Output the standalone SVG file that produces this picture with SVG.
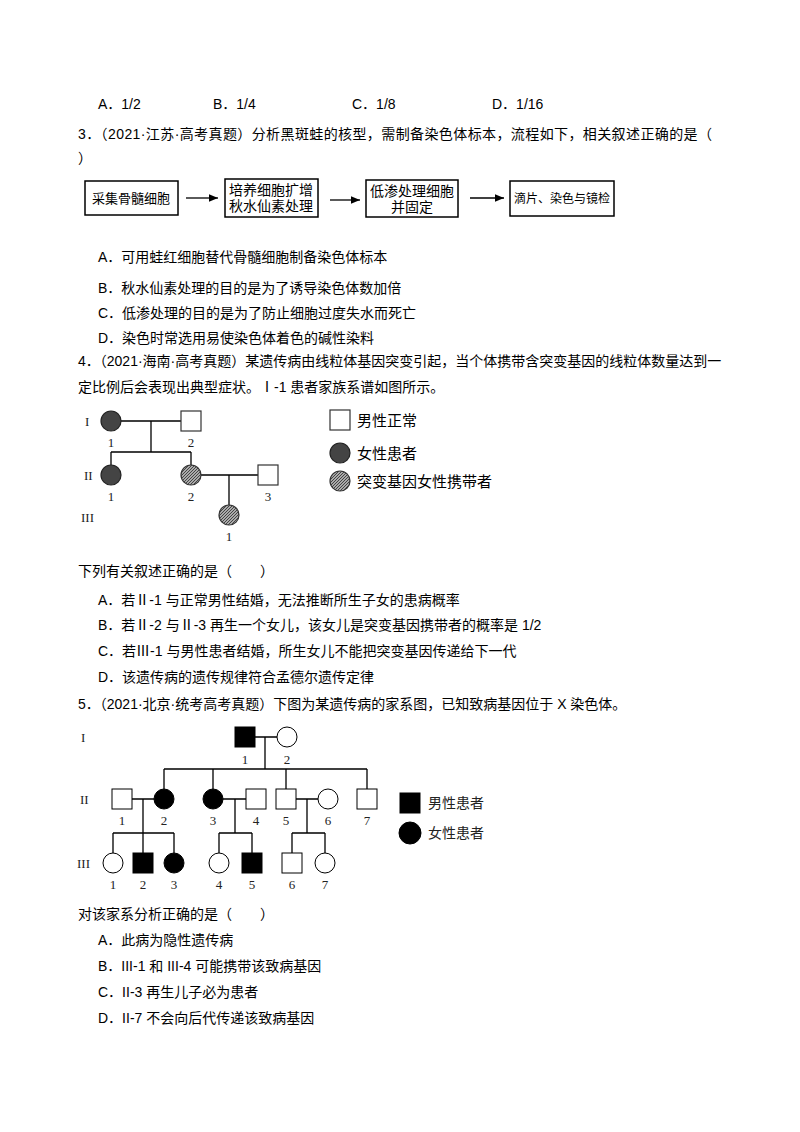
<svg xmlns="http://www.w3.org/2000/svg" width="800" height="1132" viewBox="0 0 800 1132">
<style>
text{font-family:"Liberation Sans","Noto Sans CJK SC",sans-serif;font-size:14px;fill:#000}
.s{font-family:"Liberation Serif","Noto Sans CJK SC",serif;font-size:13px;fill:#222}
.l{font-size:15px}
.b{fill:#fff;stroke:#000;stroke-width:1.5}
.ln{stroke:#000;stroke-width:1.3;fill:none}
.e{fill:#fff;stroke:#333;stroke-width:1.2}
.d{fill:#444;stroke:#222;stroke-width:1.2}
.h{fill:url(#hat);stroke:#333;stroke-width:1.2}
.k{fill:#000;stroke:#000}
.w{fill:#fff;stroke:#000;stroke-width:1}
</style>
<defs>
<pattern id="hat" width="3" height="3" patternUnits="userSpaceOnUse"><rect width="3" height="3" fill="#aaa"/><path d="M0 3L3 0" stroke="#444" stroke-width="1"/></pattern>
<marker id="ar" markerWidth="8" markerHeight="8" refX="7" refY="4" orient="auto"><path d="M0 1L7 4L0 7z" fill="#000"/></marker>
</defs>
<rect width="800" height="1132" fill="#fff"/>
<text x="98" y="109">A．1/2</text><text x="213" y="109">B．1/4</text><text x="352" y="109">C．1/8</text><text x="492" y="109">D．1/16</text>
<text x="78" y="139" textLength="634" lengthAdjust="spacing">3．（2021·江苏·高考真题）分析黑斑蛙的核型，需制备染色体标本，流程如下，相关叙述正确的是（</text>
<text x="78" y="163">）</text>
<g id="box1"><rect class="b" x="85" y="181" width="93" height="34"/><text x="131" y="203" text-anchor="middle" style="font-size:13px">采集骨髓细胞</text></g>
<g id="box2"><rect class="b" x="225" y="179" width="93" height="38"/><text x="271" y="195" text-anchor="middle">培养细胞扩增</text><text x="271" y="211" text-anchor="middle">秋水仙素处理</text></g>
<g id="box3"><rect class="b" x="366" y="180" width="92" height="37"/><text x="412" y="196" text-anchor="middle">低渗处理细胞</text><text x="412" y="212" text-anchor="middle">并固定</text></g>
<g id="box4"><rect class="b" x="510" y="181" width="104" height="35"/><text x="562" y="203" text-anchor="middle" style="font-size:12px">滴片、染色与镜检</text></g>
<g id="connectors">
<line class="ln" x1="186" y1="198" x2="218" y2="198" marker-end="url(#ar)"/>
<line class="ln" x1="330" y1="200" x2="360" y2="200" marker-end="url(#ar)"/>
<line class="ln" x1="470" y1="198" x2="504" y2="198" marker-end="url(#ar)"/>
</g>
<text x="98" y="262">A．可用蛙红细胞替代骨髓细胞制备染色体标本</text>
<text x="98" y="293">B．秋水仙素处理的目的是为了诱导染色体数加倍</text>
<text x="98" y="318">C．低渗处理的目的是为了防止细胞过度失水而死亡</text>
<text x="98" y="343">D．染色时常选用易使染色体着色的碱性染料</text>
<text x="78" y="366">4．（2021·海南·高考真题）某遗传病由线粒体基因突变引起，当个体携带含突变基因的线粒体数量达到一</text>
<text x="78" y="392">定比例后会表现出典型症状。Ⅰ-1 患者家族系谱如图所示。</text>
<g id="ped1-lines">
<path class="ln" d="M121 421H181M151 421V452M111 452H191M111 452V465M191 452V465M201 475H258M229 475V505"/>
</g>
<g id="p1-I1"><circle class="d" cx="111" cy="421" r="10"/><text class="s" x="111" y="447" text-anchor="middle">1</text></g>
<g id="p1-I2"><rect class="e" x="181" y="411" width="20" height="20"/><text class="s" x="191" y="447" text-anchor="middle">2</text></g>
<g id="p1-II1"><circle class="d" cx="111" cy="475" r="10"/><text class="s" x="111" y="501" text-anchor="middle">1</text></g>
<g id="p1-II2"><circle class="h" cx="191" cy="475" r="10"/><text class="s" x="191" y="501" text-anchor="middle">2</text></g>
<g id="p1-II3"><rect class="e" x="258" y="465" width="20" height="20"/><text class="s" x="268" y="501" text-anchor="middle">3</text></g>
<g id="p1-III1"><circle class="h" cx="229" cy="515" r="10"/><text class="s" x="229" y="541" text-anchor="middle">1</text></g>
<text class="s" x="85" y="426">I</text><text class="s" x="84" y="480">II</text><text class="s" x="81" y="522">III</text>
<g id="legend1">
<rect class="e" x="330" y="410" width="20" height="20"/><text class="l" x="357" y="426">男性正常</text>
<circle class="d" cx="340" cy="453" r="10"/><text class="l" x="357" y="459">女性患者</text>
<circle class="h" cx="340" cy="481" r="10"/><text class="l" x="357" y="487">突变基因女性携带者</text>
</g>
<text x="78" y="576">下列有关叙述正确的是（　　）</text>
<text x="98" y="605">A．若Ⅱ-1 与正常男性结婚，无法推断所生子女的患病概率</text>
<text x="98" y="630">B．若Ⅱ-2 与Ⅱ-3 再生一个女儿，该女儿是突变基因携带者的概率是 1/2</text>
<text x="98" y="656">C．若Ⅲ-1 与男性患者结婚，所生女儿不能把突变基因传递给下一代</text>
<text x="98" y="682">D．该遗传病的遗传规律符合孟德尔遗传定律</text>
<text x="78" y="709">5．（2021·北京·统考高考真题）下图为某遗传病的家系图，已知致病基因位于 X 染色体。</text>
<g id="ped2-lines">
<path class="ln" d="M255 737H277M265 737V769M164 769H367M164 769V789M213 769V789M286 769V789M367 769V789M132 799H154M143 799V833M113 833H174M113 833V853M143 833V853M174 833V853M223 799H246M235 799V833M219 833H252M219 833V853M252 833V853M296 799H318M307 799V833M292 833H325M292 833V853M325 833V853"/>
</g>
<text class="s" x="81" y="742">I</text><text class="s" x="80" y="804">II</text><text class="s" x="77" y="868">III</text>
<g id="p2-I1"><rect class="k" x="235" y="727" width="20" height="20"/><text class="s" x="245" y="764" text-anchor="middle">1</text></g>
<g id="p2-I2"><circle class="w" cx="287" cy="737" r="10"/><text class="s" x="287" y="764" text-anchor="middle">2</text></g>
<g id="p2-II1"><rect class="w" x="112" y="789" width="20" height="20"/><text class="s" x="122" y="825" text-anchor="middle">1</text></g>
<g id="p2-II2"><circle class="k" cx="164" cy="799" r="10"/><text class="s" x="164" y="825" text-anchor="middle">2</text></g>
<g id="p2-II3"><circle class="k" cx="213" cy="799" r="10"/><text class="s" x="213" y="825" text-anchor="middle">3</text></g>
<g id="p2-II4"><rect class="w" x="246" y="789" width="20" height="20"/><text class="s" x="256" y="825" text-anchor="middle">4</text></g>
<g id="p2-II5"><rect class="w" x="276" y="789" width="20" height="20"/><text class="s" x="286" y="825" text-anchor="middle">5</text></g>
<g id="p2-II6"><circle class="w" cx="328" cy="799" r="10"/><text class="s" x="328" y="825" text-anchor="middle">6</text></g>
<g id="p2-II7"><rect class="w" x="357" y="789" width="20" height="20"/><text class="s" x="367" y="825" text-anchor="middle">7</text></g>
<g id="p2-III1"><circle class="w" cx="113" cy="863" r="10"/><text class="s" x="113" y="889" text-anchor="middle">1</text></g>
<g id="p2-III2"><rect class="k" x="133" y="853" width="20" height="20"/><text class="s" x="143" y="889" text-anchor="middle">2</text></g>
<g id="p2-III3"><circle class="k" cx="174" cy="863" r="10"/><text class="s" x="174" y="889" text-anchor="middle">3</text></g>
<g id="p2-III4"><circle class="w" cx="219" cy="863" r="10"/><text class="s" x="219" y="889" text-anchor="middle">4</text></g>
<g id="p2-III5"><rect class="k" x="242" y="853" width="20" height="20"/><text class="s" x="252" y="889" text-anchor="middle">5</text></g>
<g id="p2-III6"><rect class="w" x="282" y="853" width="20" height="20"/><text class="s" x="292" y="889" text-anchor="middle">6</text></g>
<g id="p2-III7"><circle class="w" cx="325" cy="863" r="10"/><text class="s" x="325" y="889" text-anchor="middle">7</text></g>
<g id="legend2">
<rect class="k" x="400" y="793" width="20" height="20"/><text class="s" x="428" y="808" style="font-size:14px">男性患者</text>
<circle class="k" cx="410" cy="833" r="11"/><text class="s" x="428" y="838" style="font-size:14px">女性患者</text>
</g>
<text x="78" y="919">对该家系分析正确的是（　　）</text>
<text x="98" y="945">A．此病为隐性遗传病</text>
<text x="98" y="971">B．III-1 和 III-4 可能携带该致病基因</text>
<text x="98" y="997">C．II-3 再生儿子必为患者</text>
<text x="98" y="1023">D．II-7 不会向后代传递该致病基因</text>
</svg>
